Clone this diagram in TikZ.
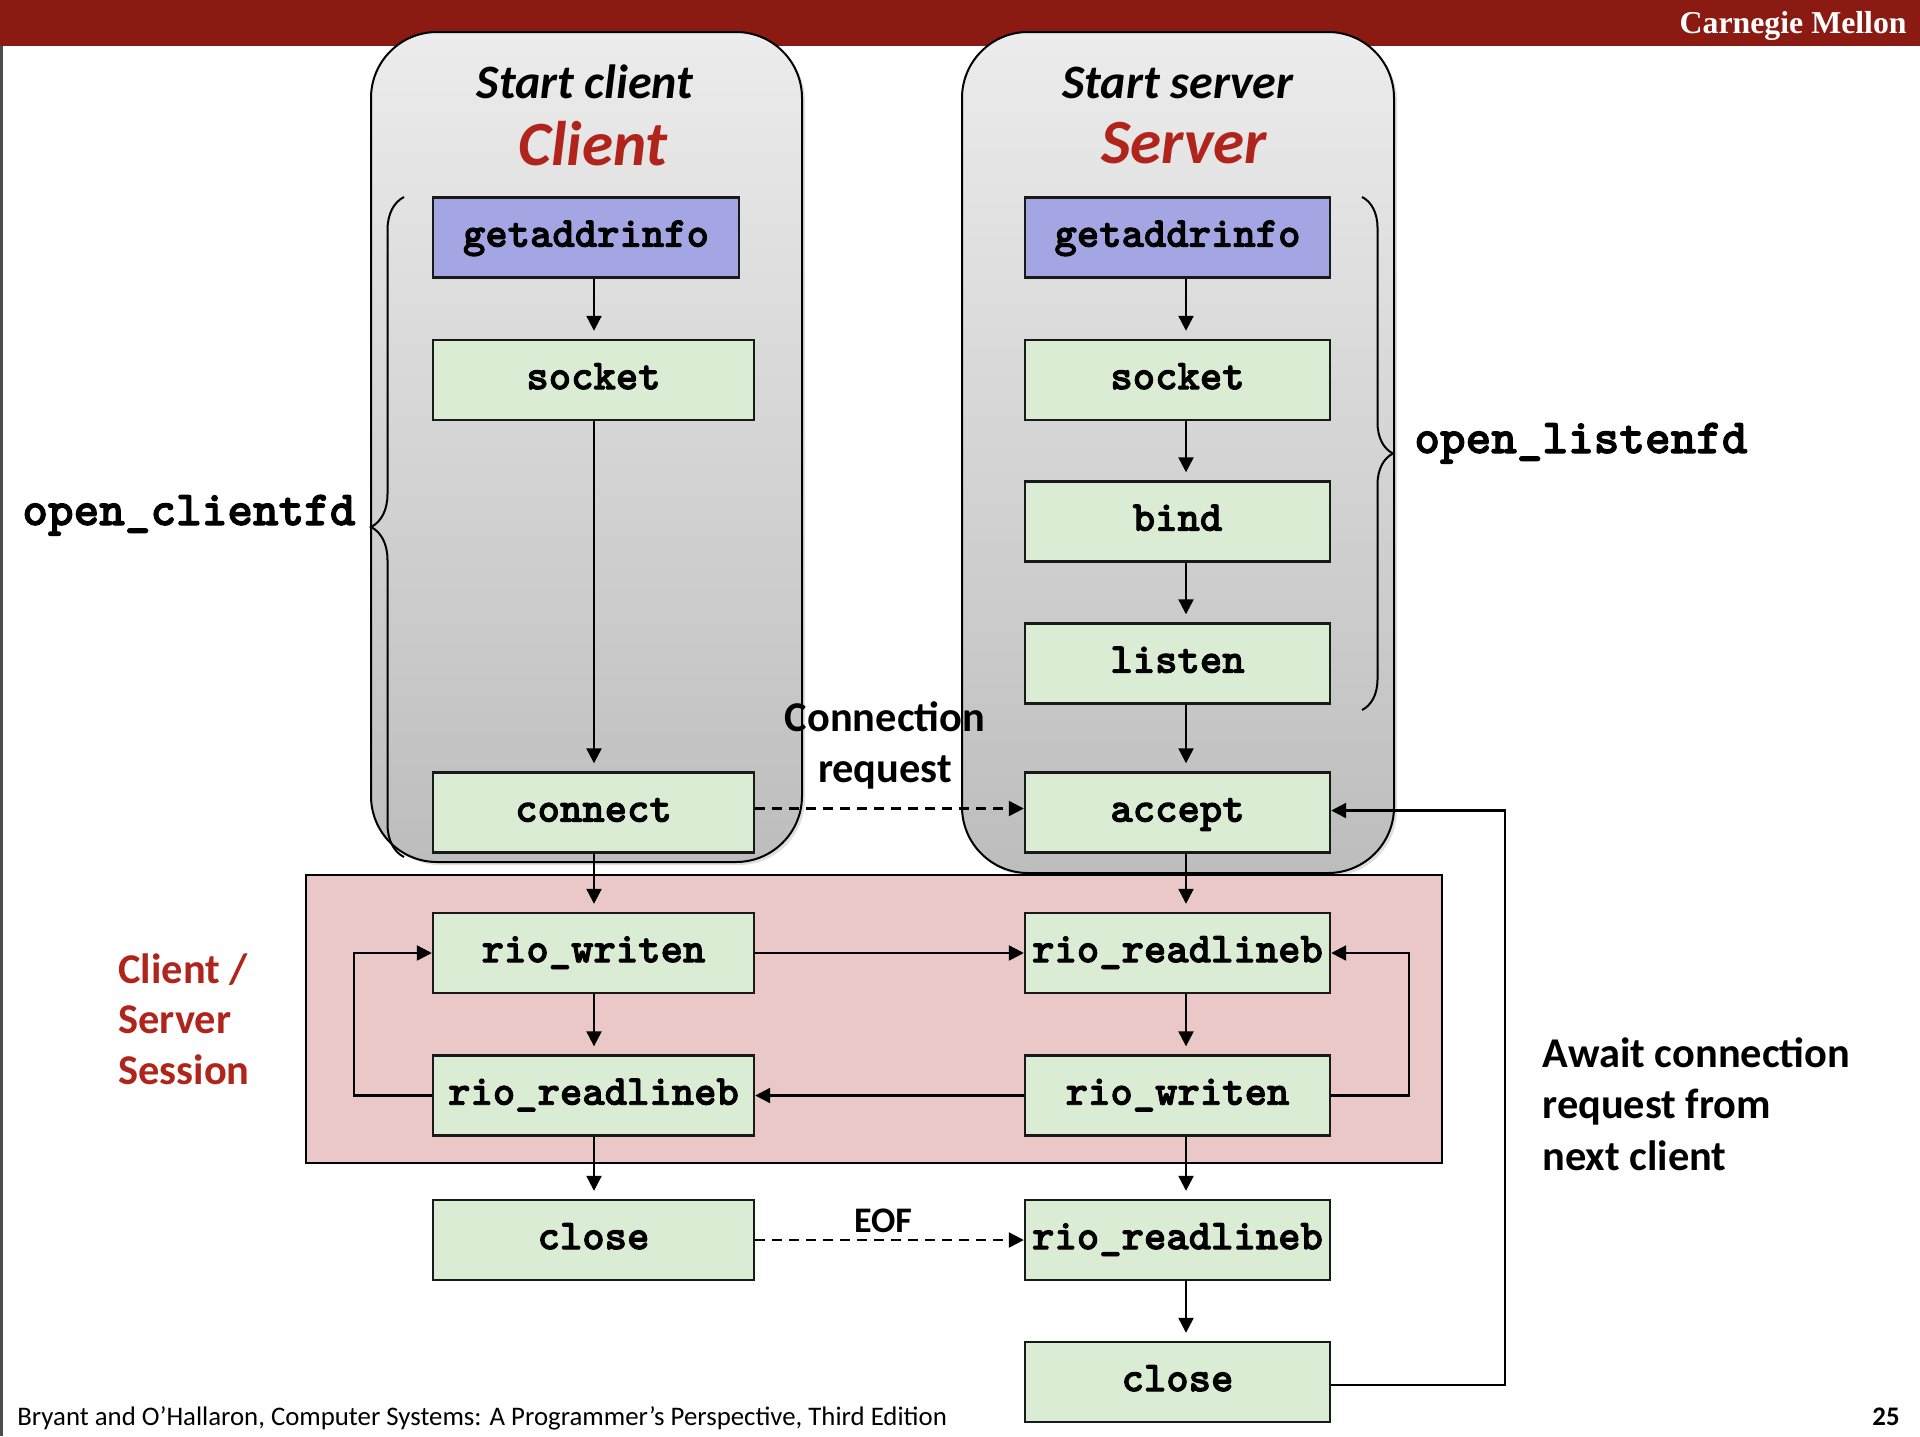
\documentclass[tikz,border=0pt]{standalone}
\usepackage{fontspec}
\setmainfont{Carlito}
\newfontfamily\serifhead{Liberation Serif}
\newfontfamily\codefont[FakeBold=2.2]{lmmonolt10-bold.otf}
\usetikzlibrary{arrows.meta,decorations.pathreplacing,shadows,calc}

\definecolor{cmured}{HTML}{8B1A12}
\definecolor{titlered}{HTML}{B0241B}
\definecolor{procgreen}{HTML}{DAEDD4}
\definecolor{proclav}{HTML}{A4A6E3}
\definecolor{sessionpink}{HTML}{EBC8C8}
\definecolor{paneltop}{HTML}{ECECEC}
\definecolor{panelbot}{HTML}{BDBDBD}

\begin{document}
\begin{tikzpicture}[x=0.5pt,y=-0.5pt,
  panel/.style={draw=black, line width=1pt, rounded corners=33pt,
    top color=paneltop, bottom color=panelbot,
    drop shadow={opacity=0.25, shadow xshift=1.5pt, shadow yshift=-1.5pt}},
  proc/.style={draw=black!90, line width=1.2pt, fill=procgreen, minimum height=40pt,
    inner sep=0pt, text height=11pt, text depth=1.8pt,
    font=\codefont\fontsize{21.3}{24}\selectfont},
  cproc/.style={proc, minimum width=160.5pt},
  sproc/.style={proc, minimum width=152.5pt},
  arr/.style={line width=1.15pt, -{Triangle[length=7.5pt,width=7.5pt]}},
  varr/.style={arr, shorten >=4pt},
  dasharr/.style={arr, dash pattern=on 5pt off 3.5pt},
  brc/.style={line width=1pt, decorate},
  lbl/.style={font=\bfseries\fontsize{21.2}{25}\selectfont, inner sep=0pt},
  fdname/.style={font=\codefont\fontsize{24.4}{28}\selectfont, inner sep=0pt},
]
\useasboundingbox (0,0) rectangle (1920,1436);

% header bar and page edge
\fill[cmured] (0,0) rectangle (1920,46);
\fill[black!70] (0,46) rectangle (2.5,1436);
\node[anchor=base east, inner sep=0pt, text=white,
  font=\serifhead\bfseries\fontsize{15.9}{18}\selectfont] (cmu) at (1907,33) {Carnegie Mellon};

% client and server panels
\path[panel] (371,32) rectangle (802,862);
\path[panel] (962,32) rectangle (1394,873);

% session area
\path[draw=black, line width=1.1pt, fill=sessionpink] (306,875) rectangle (1442,1163);

% panel titles
\node[anchor=base, inner sep=0pt, font=\bfseries\itshape\fontsize{24}{28}\selectfont] (stc) at (585,98) {Start client};
\node[anchor=base, inner sep=0pt, text=titlered, font=\bfseries\itshape\fontsize{31.5}{36}\selectfont] (ctitle) at (593,165) {Client};
\node[anchor=base, inner sep=0pt, font=\bfseries\itshape\fontsize{24}{28}\selectfont] (sts) at (1178,98) {Start server};
\node[anchor=base, inner sep=0pt, text=titlered, font=\bfseries\itshape\fontsize{31.5}{36}\selectfont] (stitle) at (1184,163) {Server};

% braces
\coordinate (cbB) at (404,857);
\coordinate (cbT) at (404,197);
\draw[brc, decoration={brace, amplitude=16.5pt}] (cbB) -- (cbT);
\coordinate (sbT) at (1362,197);
\coordinate (sbB) at (1362,710);
\draw[brc, decoration={brace, amplitude=15.5pt}] (sbT) -- (sbB);
\node[fdname, anchor=base west] (ocfd) at (22,525) {open\_clientfd};
\node[fdname, anchor=base west] (olfd) at (1414,453) {open\_listenfd};

% client steps
\node[proc, fill=proclav, minimum width=153pt] (cga) at (586,237.5) {getaddrinfo};
\node[cproc] (csock) at (593.5,380) {socket};
\node[cproc] (ccon) at (593.5,812.5) {connect};
\node[cproc] (cwr) at (593.5,953) {rio\_writen};
\node[cproc] (crd) at (593.5,1095.5) {rio\_readlineb};
\node[cproc] (ccl) at (593.5,1240) {close};

% server steps
\node[proc, fill=proclav, minimum width=152.5pt] (sga) at (1177.5,237.5) {getaddrinfo};
\node[sproc] (ssock) at (1177.5,380) {socket};
\node[sproc] (sbind) at (1177.5,521.5) {bind};
\node[sproc] (slis) at (1177.5,663.5) {listen};
\node[sproc] (sacc) at (1177.5,812.5) {accept};
\node[sproc] (srd) at (1177.5,953) {rio\_readlineb};
\node[sproc] (swr) at (1177.5,1095.5) {rio\_writen};
\node[sproc] (srd2) at (1177.5,1240) {rio\_readlineb};
\node[sproc] (scl) at (1177.5,1382) {close};

% arrow columns and loop rails
\coordinate (colC) at (594,0);
\coordinate (colS) at (1186,0);
\coordinate (railL) at (354,0);
\coordinate (railR) at (1409,0);
\coordinate (railF) at (1505,0);

% client flow
\draw[varr] (cga.south -| colC) -- (csock.north -| colC);
\draw[varr] (csock.south -| colC) -- (ccon.north -| colC);
\draw[varr] (ccon.south -| colC) -- (cwr.north -| colC);
\draw[varr] (cwr.south -| colC) -- (crd.north -| colC);
\draw[varr] (crd.south -| colC) -- (ccl.north -| colC);

% server flow
\draw[varr] (sga.south -| colS) -- (ssock.north -| colS);
\draw[varr] (ssock.south -| colS) -- (sbind.north -| colS);
\draw[varr] (sbind.south -| colS) -- (slis.north -| colS);
\draw[varr] (slis.south -| colS) -- (sacc.north -| colS);
\draw[varr] (sacc.south -| colS) -- (srd.north -| colS);
\draw[varr] (srd.south -| colS) -- (swr.north -| colS);
\draw[varr] (swr.south -| colS) -- (srd2.north -| colS);
\draw[varr] (srd2.south -| colS) -- (scl.north -| colS);

% exchanges between client and server
\draw[dasharr] ([yshift=2pt]ccon.east) -- ([yshift=2pt]sacc.west);
\draw[arr] (cwr.east) -- (srd.west);
\draw[arr] (swr.west) -- (crd.east);
\draw[dasharr] (ccl.east) -- (srd2.west);
\draw[arr] (crd.west) -- (crd.west -| railL) |- (cwr.west);
\draw[arr] (swr.east) -- (swr.east -| railR) |- (srd.east);
\draw[arr] ([yshift=-1.5pt]scl.east) -- ([yshift=-1.5pt]scl.east -| railF) |- ([yshift=1pt]sacc.east);

% labels
\node[lbl, anchor=base] (connl1) at (885,731) {Connection};
\node[lbl, anchor=base] (connl2) at (885,782) {request};
\node[lbl, anchor=base, font=\bfseries\fontsize{18}{22}\selectfont] (eof) at (883,1232) {EOF};
\node[lbl, anchor=base west, text=titlered] (ss1) at (118,983) {Client /};
\node[lbl, anchor=base west, text=titlered] (ss2) at (118,1033) {Server};
\node[lbl, anchor=base west, text=titlered] (ss3) at (118,1084) {Session};
\node[lbl, anchor=base west] (aw1) at (1542,1067) {Await connection};
\node[lbl, anchor=base west] (aw2) at (1542,1118) {request from};
\node[lbl, anchor=base west] (aw3) at (1542,1170) {next client};

% footer
\node[anchor=base west, inner sep=0pt, font=\fontsize{13.4}{16}\selectfont] (foot) at (17,1425)
  {Bryant and O’Hallaron, Computer Systems: A Programmer’s Perspective, Third Edition};
\node[anchor=base east, inner sep=0pt, font=\bfseries\fontsize{13.4}{16}\selectfont] (pg) at (1900,1425) {25};
\end{tikzpicture}
\end{document}
